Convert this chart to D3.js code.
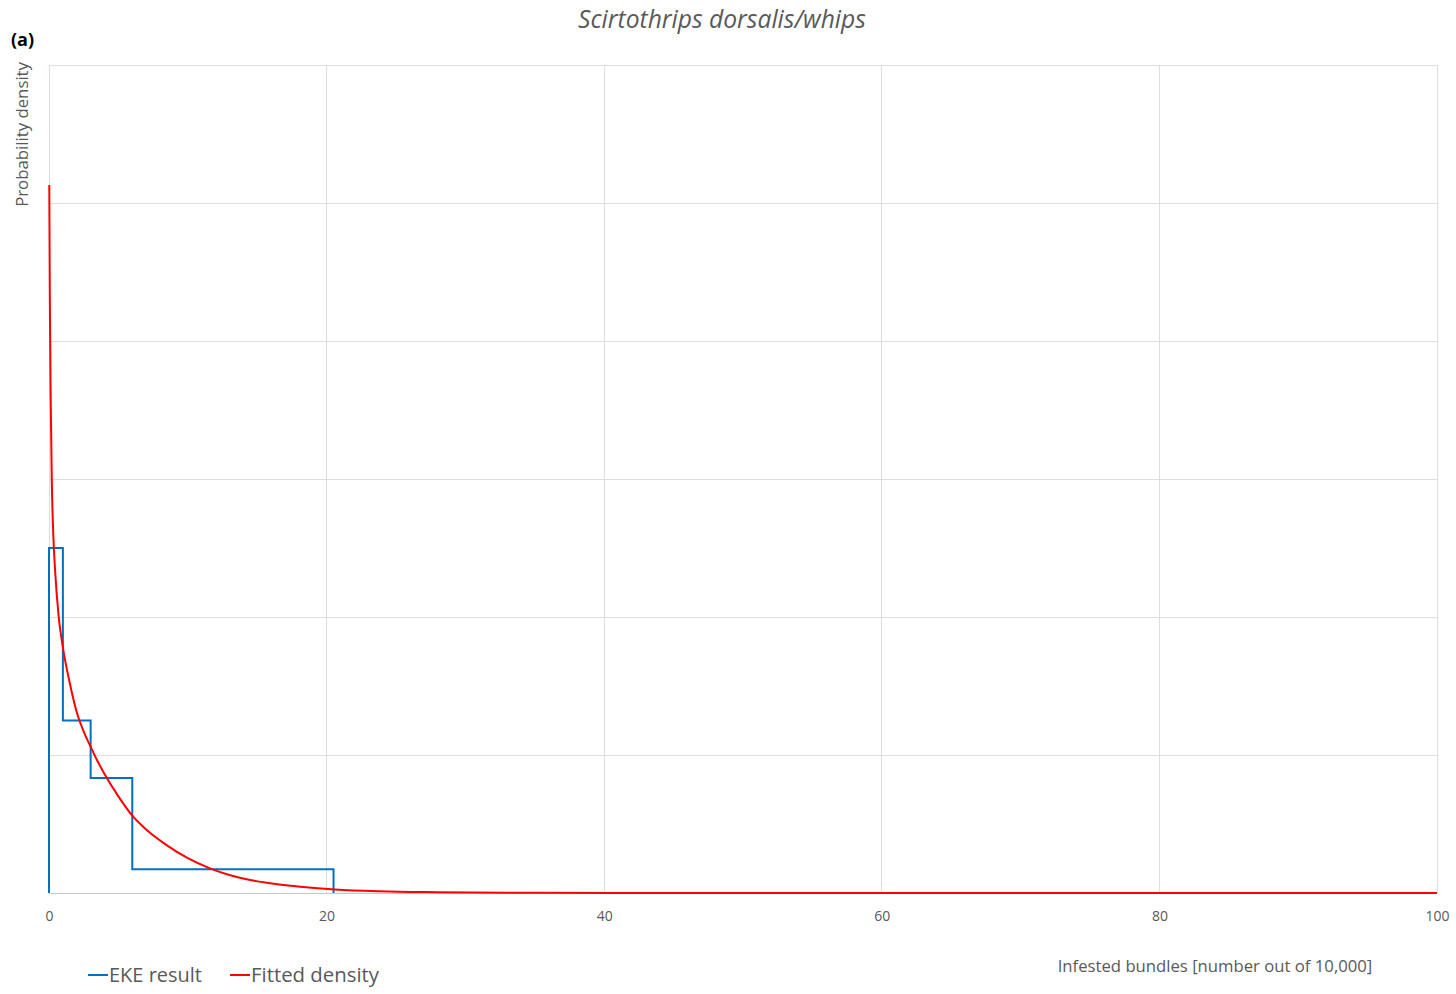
<!DOCTYPE html>
<html>
<head>
<meta charset="utf-8">
<script src="https://cdn.jsdelivr.net/npm/d3@7"></script>
<style>
  html, body { margin: 0; padding: 0; background: #fff; }
  svg { display: block; }
  text { font-family: "Open Sans", "Noto Sans", sans-serif; }
</style>
</head>
<body>
<svg id="chart" width="1456" height="994"></svg>
<script>
// ---- Data ----
const xTicks = [0, 20, 40, 60, 80, 100];
const yGrid = [0, 0.1, 0.2, 0.3, 0.4, 0.5, 0.6];

// EKE result: histogram-like step density between elicited quantiles
const ekeEdges = [0, 1, 3, 6, 20.5];
const ekeDensity = [0.25, 0.125, 0.0833, 0.0172];

// Fitted density, points
const fitX = [0.02, 0.06, 0.12, 0.2, 0.3, 0.45, 0.7, 1.0, 1.5, 2.0, 2.5, 3.0, 3.5, 4.0, 5.0, 6.0, 7.0, 8.5, 10.0, 11.6, 13.0, 14.5, 16.6, 18.1, 20.6, 23.8, 28, 35, 45, 100];
const fitY = [0.513, 0.43, 0.36, 0.30, 0.262, 0.232, 0.200, 0.178, 0.152, 0.131, 0.117, 0.106, 0.0955, 0.0862, 0.0700, 0.0560, 0.0460, 0.0345, 0.0252, 0.0178, 0.0130, 0.0094, 0.0062, 0.0046, 0.0026, 0.0013, 0.0006, 0.00015, 0, 0];

const titleText = "Scirtothrips dorsalis/whips";
const panelLabel = "(a)";
const yLabel = "Probability density";
const xLabel = "Infested bundles [number out of 10,000]";
const seriesNames = ["EKE result", "Fitted density"];
const seriesColors = ["#0070C0", "#FF0000"];

// ---- Drawing ----
const svg = d3.select("#chart");
const plot = { left: 49, right: 1437, top: 65, bottom: 893 };

const x = d3.scaleLinear().domain([0, 100]).range([plot.left, plot.right]);
const y = d3.scaleLinear().domain([0, 0.6]).range([plot.bottom, plot.top]);

function fitText(sel, target) {
  const node = sel.node();
  let fs = parseFloat(sel.attr("font-size"));
  const w = node.getComputedTextLength();
  if (w > 0) sel.attr("font-size", (fs * target / w).toFixed(2));
}

// gridlines
const grid = svg.append("g");
grid.selectAll("line.h").data(yGrid).join("line")
  .attr("x1", plot.left).attr("x2", plot.right)
  .attr("y1", d => y(d)).attr("y2", d => y(d))
  .attr("stroke", d => d === 0 ? "#c8c8c8" : "#dedede").attr("stroke-width", 1)
  .attr("shape-rendering", "crispEdges");
grid.selectAll("line.v").data(xTicks).join("line")
  .attr("x1", d => x(d)).attr("x2", d => x(d))
  .attr("y1", plot.top).attr("y2", plot.bottom)
  .attr("stroke", "#dedede").attr("stroke-width", 1)
  .attr("shape-rendering", "crispEdges");

// x axis tick labels
const xAxis = d3.axisBottom(x).tickValues(xTicks).tickSize(0).tickPadding(0);
const gx = svg.append("g").attr("transform", `translate(0,${plot.bottom})`).call(xAxis);
gx.select(".domain").remove();
gx.selectAll("text")
  .attr("dy", null).attr("y", 28)
  .attr("fill", "#595959").attr("font-size", 14)
  .attr("font-family", "'Open Sans', sans-serif");

// EKE step line
const stepPts = [[ekeEdges[0], 0]];
ekeDensity.forEach((d, i) => stepPts.push([ekeEdges[i], d]));
stepPts.push([ekeEdges[ekeEdges.length - 1], 0]);
const stepLine = d3.line().x(d => x(d[0])).y(d => y(d[1])).curve(d3.curveStepAfter);
svg.append("path").attr("d", stepLine(stepPts))
  .attr("fill", "none").attr("stroke", seriesColors[0]).attr("stroke-width", 2);

// Fitted density
const fitPts = fitX.map((v, i) => [v, fitY[i]]);
const fitLine = d3.line().x(d => x(d[0])).y(d => y(d[1])).curve(d3.curveMonotoneX);
svg.append("path").attr("d", fitLine(fitPts))
  .attr("fill", "none").attr("stroke", seriesColors[1]).attr("stroke-width", 2);

// title
const t = svg.append("text").attr("x", 722).attr("y", 28).attr("text-anchor", "middle")
  .attr("font-style", "italic").attr("fill", "#595959").attr("font-size", 21)
  .text(titleText);
fitText(t, 288);

// panel label
svg.append("text").attr("x", 11).attr("y", 46)
  .attr("font-family", "'Liberation Sans', Arial, sans-serif")
  .attr("font-weight", "bold").attr("font-size", 18).attr("fill", "#000")
  .text(panelLabel);

// y label
const yl = svg.append("text")
  .attr("transform", `translate(28,${plot.top - 3}) rotate(-90)`)
  .attr("text-anchor", "end").attr("fill", "#595959").attr("font-size", 16)
  .text(yLabel);
fitText(yl, 145);

// x label
const xl = svg.append("text").attr("x", 1215).attr("y", 972).attr("text-anchor", "middle")
  .attr("fill", "#595959").attr("font-size", 16).text(xLabel);
fitText(xl, 315);

// legend
const legend = svg.append("g");
const legItems = [{ x: 88, tw: 93 }, { x: 230, tw: 128 }];
legItems.forEach((it, i) => {
  legend.append("line").attr("x1", it.x).attr("x2", it.x + 20)
    .attr("y1", 975).attr("y2", 975)
    .attr("stroke", seriesColors[i]).attr("stroke-width", 2);
  const lt = legend.append("text").attr("x", it.x + 21).attr("y", 982)
    .attr("fill", "#595959").attr("font-size", 19).text(seriesNames[i]);
  fitText(lt, it.tw);
});
</script>
</body>
</html>
